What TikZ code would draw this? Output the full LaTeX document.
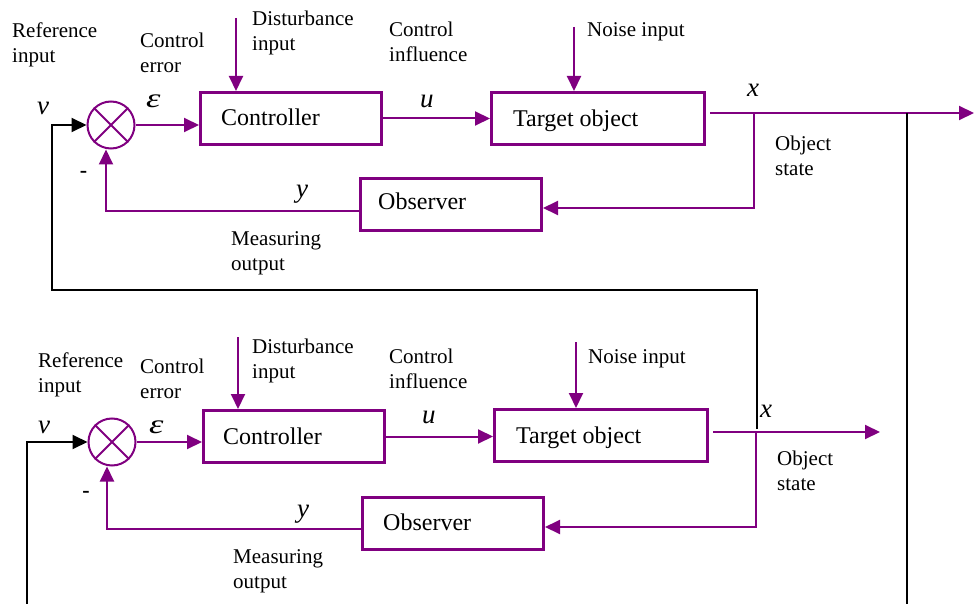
\documentclass[tikz,border=0pt]{standalone}
\usepackage{fontspec}
\usepackage{graphicx}
\setmainfont{Liberation Serif}
\usetikzlibrary{arrows.meta}
\definecolor{vio}{RGB}{128,0,128}
\tikzset{
  tipA/.tip={Triangle[length=15pt,width=14pt]},
  flow/.style={draw=vio, line width=2pt, -tipA},
  blk/.style={draw=black, line width=2pt},
  blkflow/.style={blk, -tipA},
  blockbox/.style={draw=vio, line width=3.2pt, inner sep=0pt, minimum height=51.8pt},
  sumnode/.style={circle, draw=vio, line width=2pt, minimum size=47pt, inner sep=0pt},
  crossline/.style={draw=vio, line width=2pt},
  lbl/.style={font=\fontsize{21}{25}\selectfont, align=left, inner sep=0pt, anchor=north west},
  boxlbl/.style={font=\fontsize{24}{28}\selectfont, inner sep=0pt, anchor=base west},
  sym/.style={font=\fontsize{27}{30}\selectfont\itshape, inner sep=0pt, anchor=base west},
  minus/.style={font=\fontsize{22}{24}\selectfont\bfseries, inner sep=0pt, anchor=base},
}
\newcommand{\wideeps}{\scalebox{1.35}[1]{ε}}
\begin{document}
\begin{tikzpicture}[x=1pt,y=-1pt]
\useasboundingbox (0,0) rectangle (974,604);

% ---------------- top loop ----------------
\node[sumnode] (sum) at (111,125) {};
\draw[crossline] (sum.45) -- (sum.225) (sum.135) -- (sum.315);
\node[blockbox, minimum width=180.8pt] (ctrl) at (291,118.5) {};
\node[blockbox, minimum width=212.8pt] (target) at (598,118.5) {};
\node[blockbox, minimum width=180.8pt] (obs) at (451,204.5) {};
\node[boxlbl] (ctrlt) at (221,126) {Controller};
\node[boxlbl] (targett) at (513,127) {Target object};
\node[boxlbl] (obst) at (378,210) {Observer};

\node[lbl] (ref) at (12,23) {Reference\\input};
\node[lbl] (cerr) at (140,33) {Control\\error};
\node[lbl] (dist) at (252,11) {Disturbance\\input};
\node[lbl] (cinf) at (389,22) {Control\\influence};
\node[lbl] (noise) at (587,22) {Noise input};
\node[lbl] (ostate) at (775,136) {Object\\state};
\node[lbl] (meas) at (231,231) {Measuring\\output};

\node[sym] (vs) at (37,115) {v};
\node[sym] (es) at (146,108) {\wideeps};
\node[sym] (us) at (420,108) {u};
\node[sym] (xs) at (747,97) {x};
\node[sym] (ys) at (296,198) {y};
\node[minus] (mi) at (83.5,178) {-};

\coordinate (dtop) at (236,18);
\coordinate (ntop) at (574,27);
\coordinate (xo) at (710,113);
\coordinate (xend) at (974,113);
\coordinate (br) at (754,113);
\coordinate (brd) at (754,208);
\coordinate (fb) at (106,211);

\draw[flow] (dtop) -- (dtop |- ctrl.north);
\draw[flow] (ntop) -- (ntop |- target.north);
\draw[flow] (sum.east) -- (sum.east -| ctrl.west);
\draw[flow] (ctrl.east) -- (ctrl.east -| target.west);
\draw[flow] (xo) -- (xend);
\draw[flow] (br) -- (brd) -- (brd -| obs.east);
\draw[flow] (obs.west |- fb) -- (fb) -- (fb |- sum.south);

% ---------------- bottom loop ----------------
\node[sumnode] (sumb) at (112,442) {};
\draw[crossline] (sumb.45) -- (sumb.225) (sumb.135) -- (sumb.315);
\node[blockbox, minimum width=180.8pt] (ctrlb) at (294,436.5) {};
\node[blockbox, minimum width=212.8pt] (targetb) at (601,435.5) {};
\node[blockbox, minimum width=180.8pt] (obsb) at (453,523.5) {};
\node[boxlbl] (ctrlbt) at (223,444) {Controller};
\node[boxlbl] (targetbt) at (516,443) {Target object};
\node[boxlbl] (obsbt) at (383,530) {Observer};

\node[lbl] (refb) at (38,353) {Reference\\input};
\node[lbl] (cerrb) at (140,359) {Control\\error};
\node[lbl] (distb) at (252,339) {Disturbance\\input};
\node[lbl] (cinfb) at (389,349) {Control\\influence};
\node[lbl] (noiseb) at (588,349) {Noise input};
\node[lbl] (ostateb) at (777,451) {Object\\state};
\node[lbl] (measb) at (233,549) {Measuring\\output};

\node[sym] (vsb) at (38,433) {v};
\node[sym] (esb) at (149,433) {\wideeps};
\node[sym] (usb) at (422,423) {u};
\node[sym] (xsb) at (760,417) {x};
\node[sym] (ysb) at (297,517) {y};
\node[minus] (mib) at (86,497) {-};

\coordinate (dtopb) at (238,337);
\coordinate (ntopb) at (576,342);
\coordinate (xob) at (713,432);
\coordinate (xendb) at (880,432);
\coordinate (brb) at (756,432);
\coordinate (brdb) at (756,527);
\coordinate (fbb) at (107,529);

\draw[flow] (dtopb) -- (dtopb |- ctrlb.north);
\draw[flow] (ntopb) -- (ntopb |- targetb.north);
\draw[flow] (sumb.east) -- (sumb.east -| ctrlb.west);
\draw[flow] (ctrlb.east) -- (ctrlb.east -| targetb.west);
\draw[flow] (xob) -- (xendb);
\draw[flow] (brb) -- (brdb) -- (brdb -| obsb.east);
\draw[flow] (obsb.west |- fbb) -- (fbb) -- (fbb |- sumb.south);

% ---------------- black connectors ----------------
\coordinate (bl) at (52,290);
\coordinate (brt) at (757,290);
\coordinate (bx) at (757,429);
\coordinate (rt) at (907,113);
\coordinate (rb) at (907,604);
\coordinate (lb) at (27,604);
\draw[blkflow] (bx) -- (brt) -- (bl) -- (bl |- sum.west) -- (sum.west);
\draw[blk] (rt) -- (rb);
\draw[blkflow] (lb) -- (lb |- sumb.west) -- (sumb.west);
\end{tikzpicture}
\end{document}
